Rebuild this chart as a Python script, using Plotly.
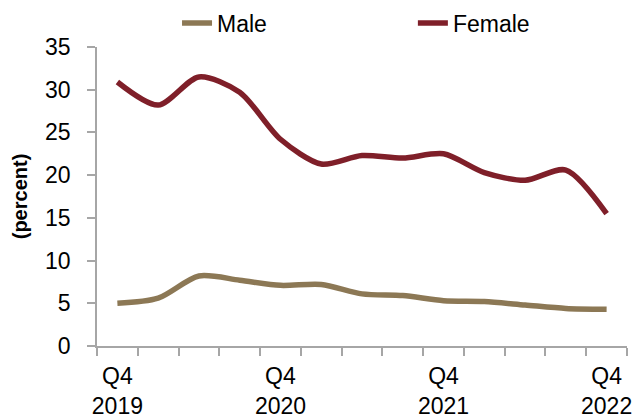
import plotly.graph_objects as go

quarters = ["Q4 2019", "Q1 2020", "Q2 2020", "Q3 2020", "Q4 2020", "Q1 2021", "Q2 2021",
            "Q3 2021", "Q4 2021", "Q1 2022", "Q2 2022", "Q3 2022", "Q4 2022"]
male = [5.0, 5.6, 8.2, 7.7, 7.1, 7.2, 6.1, 5.9, 5.3, 5.2, 4.8, 4.4, 4.3]
female = [30.9, 28.2, 31.5, 29.7, 24.2, 21.3, 22.3, 22.0, 22.5, 20.3, 19.4, 20.6, 15.5]
tick_idx = [0, 4, 8, 12]
tick_text = ["Q4<br>2019", "Q4<br>2020", "Q4<br>2021", "Q4<br>2022"]

x = list(range(len(quarters)))
font = "Liberation Sans, Arial, sans-serif"
FS = 23

fig = go.Figure()
fig.add_trace(go.Scatter(x=x, y=male, name="Male", mode="lines", legend="legend",
                         line=dict(color="#8C7855", width=5.5, shape="spline", smoothing=0.8),
                         customdata=quarters))
fig.add_trace(go.Scatter(x=x, y=female, name="Female", mode="lines", legend="legend2",
                         line=dict(color="#7F1F29", width=5.5, shape="spline", smoothing=0.8),
                         customdata=quarters))

fig.update_layout(
    width=636, height=419,
    margin=dict(l=97, r=9, t=47, b=73, autoexpand=False),
    paper_bgcolor="white", plot_bgcolor="white",
    font=dict(family=font, size=FS, color="black"),
    showlegend=True,
    legend=dict(x=0.151, xanchor="left", y=1.08, yanchor="middle",
                font=dict(size=FS), bgcolor="rgba(0,0,0,0)"),
    legend2=dict(x=0.596, xanchor="left", y=1.08, yanchor="middle",
                 font=dict(size=FS), bgcolor="rgba(0,0,0,0)"),
    xaxis=dict(range=[-0.5, 12.5], tickmode="array", tickvals=tick_idx, ticktext=tick_text,
               ticks="", showgrid=False, zeroline=False, automargin=False,
               showline=True, linecolor="#A6A6A6", linewidth=1.5, ticklabelstandoff=9,
               minor=dict(tickmode="array", tickvals=[i - 0.5 for i in range(14)],
                          ticks="outside", ticklen=8, tickcolor="#A6A6A6", tickwidth=1.5,
                          showgrid=False),
               tickfont=dict(size=FS)),
    yaxis=dict(range=[0, 35], tickmode="linear", tick0=0, dtick=5, automargin=False,
               ticks="outside", ticklen=8, tickcolor="#A6A6A6", tickwidth=1.5,
               showgrid=False, zeroline=False, showline=True, linecolor="#A6A6A6", linewidth=1.5,
               tickfont=dict(size=FS), ticklabelstandoff=12,
               title=dict(text="<b>(percent)</b>", font=dict(size=20), standoff=12)),
)

fig.write_html("out.html", config={"displayModeBar": False},
               post_script="document.body.style.margin='0';")
